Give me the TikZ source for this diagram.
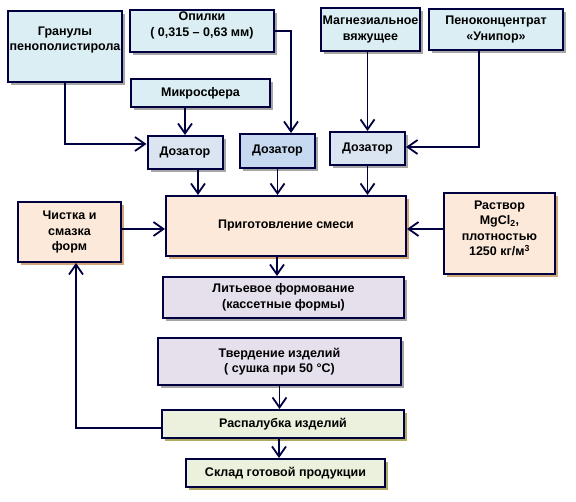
\documentclass[tikz,border=0pt]{standalone}
\usepackage{fontspec}
\setmainfont{Liberation Sans}
\usetikzlibrary{positioning,shadows,arrows.meta}
\definecolor{navy}{HTML}{000040}
\definecolor{aqua}{HTML}{DAEEF3}
\definecolor{paleblue}{HTML}{DBE5F1}
\definecolor{midblue}{HTML}{C6D9F0}
\definecolor{peach}{HTML}{FDE9D9}
\definecolor{lilac}{HTML}{E5E0EC}
\definecolor{palegreen}{HTML}{EBF1DD}
\tikzstyle{squared} = [rectangle, draw=navy, line width=2pt, align=center, inner sep=1.5pt, font=\bfseries\fontsize{12.5}{15.5}\selectfont]
\tikzstyle{aquabox} = [squared, fill=aqua, drop shadow={shadow xshift=3pt, shadow yshift=-3pt, fill=gray, opacity=.7}]
\tikzstyle{dozbox} = [squared, fill=paleblue, minimum width=75pt, minimum height=33pt, drop shadow={shadow xshift=3pt, shadow yshift=-3pt, fill=gray, opacity=.7}]
\tikzstyle{peachbox} = [squared, fill=peach, drop shadow={shadow xshift=3pt, shadow yshift=-3pt, fill=brown, opacity=.7}]
\tikzstyle{lilacbox} = [squared, fill=lilac, drop shadow={shadow xshift=3pt, shadow yshift=-3pt, fill=gray, opacity=.7}]
\tikzstyle{greenbox} = [squared, fill=palegreen, drop shadow={shadow xshift=3pt, shadow yshift=-3pt, fill=olive!80!gray, opacity=.7}]
\tikzstyle{connect} = [line width=1.8pt, draw=navy, -{Straight Barb[length=10pt,width=14pt]}]

\begin{document}
\begin{tikzpicture}[x=1pt, y=-1pt]
\useasboundingbox (0,0) rectangle (576,502);
			\node (gran) [aquabox, minimum width=112pt, minimum height=71pt] at (65,46.5) {Гранулы\\пенополистирола\\~};
			\node (opil) [aquabox, minimum width=144pt, minimum height=42pt, text depth=14pt] at (202,31) {Опилки\\( 0,315 – 0,63 мм)};
			\node (mikro) [aquabox, minimum width=139pt, minimum height=28pt] at (200.5,93) {Микросфера};
			\node (magn) [aquabox, minimum width=97pt, minimum height=43pt] at (370.5,29.5) {Магнезиальное\\вяжущее};
			\node (peno) [aquabox, minimum width=134pt, minimum height=41pt] at (496,29.5) {Пеноконцентрат\\«Унипор»};
			\node (doz1) [dozbox] at (185,152.5) {Дозатор};
			\node (doz2) [dozbox, fill=midblue, minimum height=34pt] at (277.5,151) {Дозатор};
			\node (doz3) [dozbox] at (367.5,148.5) {Дозатор};
			\node (chist) [peachbox, minimum width=103pt, minimum height=60pt] at (69.5,232) {Чистка и\\смазка\\форм};
			\node (prig) [peachbox, minimum width=240pt, minimum height=60pt] at (286,226) {Приготовление смеси};
			\node (rast) [peachbox, minimum width=111pt, minimum height=81pt, text depth=11pt] at (499.5,233.5) {Раствор\\MgCl\textsubscript{2},\\плотностью\\1250 кг/м\textsuperscript{3}};
			\node (lit) [lilacbox, below of=prig, node distance=71.5pt, xshift=-2.5pt, minimum width=241pt, minimum height=41pt] {Литьевое формование\\(кассетные формы)};
			\node (tverd) [lilacbox, below of=lit, node distance=64pt, xshift=-4pt, minimum width=243pt, minimum height=47pt] {Твердение изделий\\( сушка при 50 °C)};
			\node (rasp) [greenbox, below of=tverd, node distance=62.5pt, xshift=3.5pt, minimum width=242pt, minimum height=28pt] {Распалубка изделий};
			\node (sklad) [greenbox, below of=rasp, node distance=49pt, xshift=2.5pt, minimum width=199pt, minimum height=28pt] {Склад готовой продукции};

			\draw [connect] (gran.south) |- ([yshift=8.5pt]doz1.west);
			\draw [connect] (mikro.south -| doz1.north) -- (doz1.north);
			\draw [connect] (opil.east) -| ([xshift=13.5pt]doz2.north);
			\draw [connect] (magn.south -| doz3.north) -- (doz3.north);
			\draw [connect] ([xshift=-17pt]peno.south) |- ([yshift=1.5pt]doz3.east);
			\draw [connect] ([xshift=13pt]doz1.south) -- ([xshift=13pt]doz1.south |- prig.north);
			\draw [connect] (doz2.south) -- (doz2.south |- prig.north);
			\draw [connect] (doz3.south) -- (doz3.south |- prig.north);
			\draw [connect] ([yshift=3pt]chist.east) -- ([yshift=3pt]chist.east -| prig.west);
			\draw [connect] ([yshift=4.5pt]rast.west) -- ([yshift=4.5pt]rast.west -| prig.east);
			\draw [connect] ([xshift=-9pt]prig.south) -- ([xshift=-9pt]prig.south |- lit.north);
			\draw [connect] (tverd.south) -- (tverd.south |- rasp.north);
			\draw [connect] ([xshift=-4pt]rasp.south) -- ([xshift=-4pt]rasp.south |- sklad.north);
			\draw [connect] ([yshift=-4pt]rasp.west) -| ([xshift=6.5pt]chist.south);
\end{tikzpicture}
\end{document}
